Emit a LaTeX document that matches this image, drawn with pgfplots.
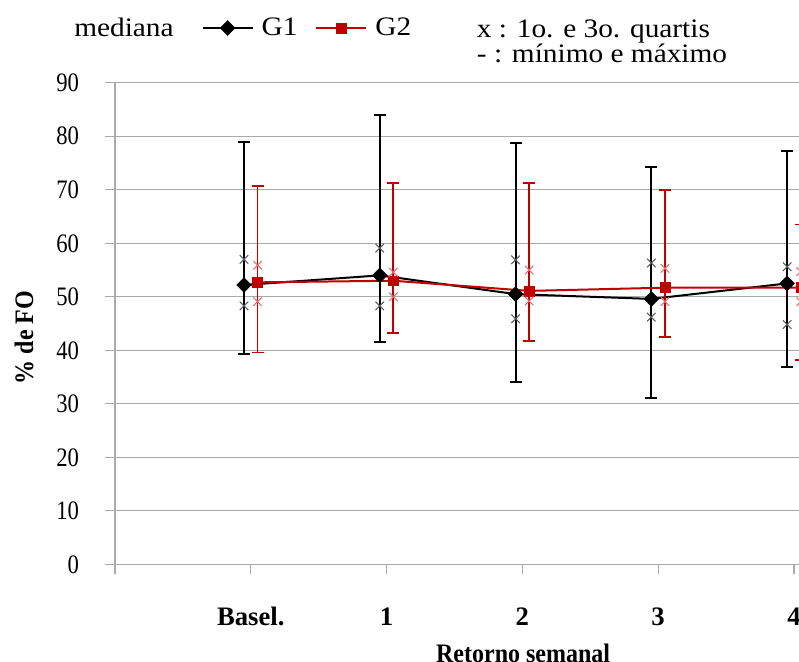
\documentclass[border=0pt]{standalone}
\usepackage{fontspec}
\setmainfont{Liberation Serif}
\newfontfamily\widefont{Liberation Serif}[FakeStretch=1.1]
\newfontfamily\tickfont{Liberation Serif}[FakeStretch=0.85]
\newfontfamily\narrowfont{Liberation Serif}[FakeStretch=0.9]
\usepackage{pgfplots}
\usepackage{pgfplotstable}
\pgfplotsset{compat=1.18}
\definecolor{exred}{RGB}{192,0,0}
\definecolor{gridgray}{RGB}{170,170,170}
\definecolor{qgray}{RGB}{90,90,90}
\definecolor{qred}{RGB}{230,110,110}

% x, median, max, min, Q3, Q1
\pgfplotstableread{
x     med   mx    mn    q3    q1
0.95  52.2  78.9  39.4  57.0  48.3
1.95  54.0  84.0  41.5  59.1  48.3
2.95  50.5  78.7  34.0  56.9  45.9
3.95  49.6  74.3  31.0  56.3  46.2
4.95  52.5  77.3  36.8  55.6  44.8
}\gone
\pgfplotstableread{
x     med   mx    mn    q3    q1
1.05  52.7  70.7  39.6  55.9  49.1
2.05  53.0  71.3  43.2  54.6  50.0
3.05  51.1  71.2  41.8  55.0  49.2
4.05  51.7  70.0  42.5  55.3  49.1
5.05  51.7  63.5  38.2  54.7  49.1
}\gtwo

\begin{document}
\begin{tikzpicture}
\useasboundingbox (0pt,0pt) rectangle (599.25pt,495.75pt);
\clip (0pt,0pt) rectangle (599.25pt,495.75pt);
\begin{axis}[
  at={(86.25pt,72.5pt)}, anchor=south west,
  scale only axis, width=529.56pt, height=361.2pt,
  xmin=0, xmax=5.2, ymin=0, ymax=90,
  axis x line*=bottom, axis y line*=left,
  axis line style={gridgray, line width=0.9pt},
  ytick={0,10,...,90},
  xtick={0,1,2,3,4,5},
  xticklabels={,Basel.,1,2,3,4},
  ymajorgrids, grid style={gridgray, line width=0.9pt},
  tick style={gridgray, line width=0.9pt},
  tick align=outside, major tick length=7.5pt,
  /pgf/number format/assume math mode=true,
  yticklabel style={font=\tickfont\fontsize{20}{24}\selectfont, text=black, xshift=-16pt},
  xticklabel style={font=\fontsize{20}{24}\selectfont\bfseries, text=black, anchor=base, yshift=-38pt},
  ylabel={\% de FO},
  ylabel style={font=\narrowfont\fontsize{20}{24}\selectfont\bfseries, at={(axis description cs:-0.116,0.471)}, anchor=base},
  xlabel={Retorno semanal},
  xlabel style={font=\narrowfont\fontsize{20}{24}\selectfont\bfseries, at={(axis description cs:0.578,-0.204)}, anchor=base},
  legend columns=3,
  legend style={draw=none, fill=none, inner sep=0pt, at={(axis description cs:-0.0694,1.1136)}, anchor=west,
    font=\widefont\fontsize{20}{24}\selectfont, column sep=4pt},
  legend image code/.code={\draw[mark repeat=2,mark phase=2,#1] plot coordinates {(0pt,0pt) (18.75pt,0pt) (37.5pt,0pt)};},
  clip=true,
]
\addlegendimage{empty legend}
\addlegendentry{mediana\rule{15pt}{0pt}}

\addplot[black, line width=1.5pt, mark=square*, mark size=3.9pt,
  mark options={rotate=45, solid, line width=0.4pt},
  error bars/.cd, y dir=both, y explicit,
  error bar style={line width=1.5pt, black},
  error mark options={rotate=90, mark size=4.5pt, line width=1.5pt, black}]
  table[x=x, y=med, y error plus expr=\thisrow{mx}-\thisrow{med}, y error minus expr=\thisrow{med}-\thisrow{mn}]{\gone};
\addlegendentry{G1\rule{7.5pt}{0pt}}
\addplot[only marks, mark=x, mark size=4.5pt, qgray, line width=0.8pt, forget plot] table[x=x, y=q3]{\gone};
\addplot[only marks, mark=x, mark size=4.5pt, qgray, line width=0.8pt, forget plot] table[x=x, y=q1]{\gone};

\addplot[exred, line width=1.5pt, mark=square*, mark size=3.7pt,
  mark options={solid, line width=0.4pt},
  error bars/.cd, y dir=both, y explicit,
  error bar style={line width=1.3pt, exred},
  error mark options={rotate=90, mark size=4.5pt, line width=1.3pt, exred}]
  table[x=x, y=med, y error plus expr=\thisrow{mx}-\thisrow{med}, y error minus expr=\thisrow{med}-\thisrow{mn}]{\gtwo};
\addlegendentry{G2}
\addplot[only marks, mark=x, mark size=4.5pt, qred, line width=0.8pt, forget plot] table[x=x, y=q3]{\gtwo};
\addplot[only marks, mark=x, mark size=4.5pt, qred, line width=0.8pt, forget plot] table[x=x, y=q1]{\gtwo};
\end{axis}
\node[anchor=base west, inner sep=0pt, font=\widefont\fontsize{20}{24}\selectfont] at (357.5pt,467.5pt) {x : 1o. e 3o. quartis};
\node[anchor=base west, inner sep=0pt, font=\widefont\fontsize{20}{24}\selectfont] at (357.5pt,448.5pt) {- : mínimo e máximo};
\end{tikzpicture}
\end{document}
